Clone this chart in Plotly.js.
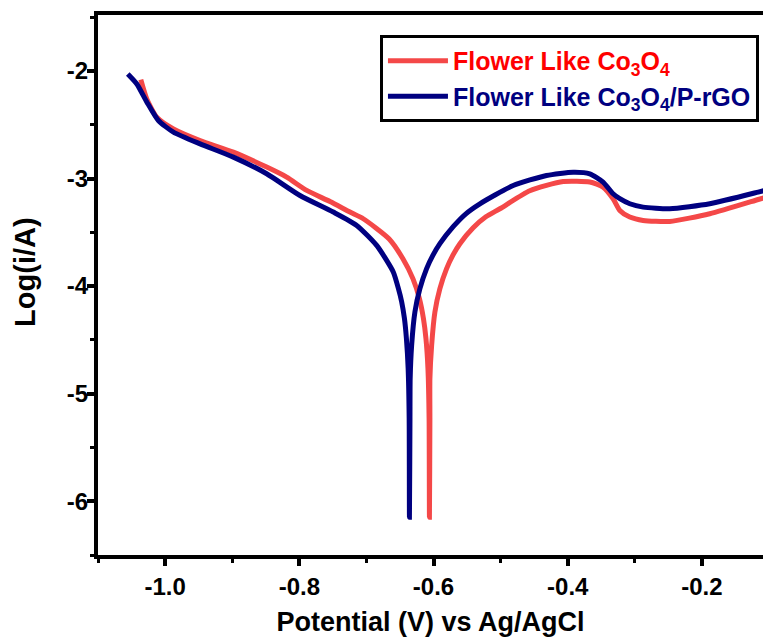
<!DOCTYPE html>
<html>
<head>
<meta charset="utf-8">
<script src="https://cdn.plot.ly/plotly-3.0.1.min.js"></script>
<style>html,body{margin:0;padding:0;background:#fff;overflow:hidden;}#chart{width:763px;height:639px;}</style>
</head>
<body>
<div id="chart"></div>
<script>
// Flower Like Co3O4 (red)
const co3o4X = [-1.0362,-1.0273,-1.0124,-0.9876,-0.9479,-0.8983,-0.8486,-0.8188,-0.7890,-0.7543,-0.7245,-0.7047,-0.6664,-0.6456,-0.6307,-0.6210,-0.6150,-0.6113,-0.6083,-0.6066,-0.6061,-0.6054,-0.6054,-0.6028,-0.5979,-0.5905,-0.5805,-0.5707,-0.5607,-0.5409,-0.5220,-0.5011,-0.4565,-0.4068,-0.3671,-0.3473,-0.3324,-0.3224,-0.3075,-0.2877,-0.2480,-0.1884,-0.1161,-0.1000];
const co3o4Y = [-2.081,-2.260,-2.430,-2.539,-2.647,-2.755,-2.894,-2.987,-3.111,-3.214,-3.312,-3.374,-3.560,-3.746,-3.931,-4.117,-4.303,-4.488,-4.767,-5.231,-6.150,-5.231,-4.860,-4.551,-4.240,-4.024,-3.838,-3.708,-3.606,-3.458,-3.356,-3.281,-3.114,-3.028,-3.033,-3.080,-3.188,-3.297,-3.358,-3.390,-3.399,-3.328,-3.195,-3.165];
// Flower Like Co3O4/P-rGO (blue)
const prgoX = [-1.0556,-1.0421,-1.0273,-1.0100,-0.9876,-0.9479,-0.8983,-0.8486,-0.7990,-0.7494,-0.7145,-0.6847,-0.6600,-0.6523,-0.6475,-0.6433,-0.6404,-0.6378,-0.6363,-0.6359,-0.6351,-0.6348,-0.6326,-0.6277,-0.6203,-0.6103,-0.6004,-0.5905,-0.5707,-0.5518,-0.5309,-0.4813,-0.4316,-0.3919,-0.3671,-0.3473,-0.3324,-0.3224,-0.3075,-0.2877,-0.2480,-0.1884,-0.1161,-0.1000];
const prgoY = [-2.028,-2.121,-2.288,-2.461,-2.569,-2.678,-2.801,-2.956,-3.158,-3.312,-3.436,-3.622,-3.869,-4.024,-4.145,-4.303,-4.488,-4.767,-5.231,-6.150,-5.231,-4.860,-4.551,-4.240,-4.024,-3.838,-3.708,-3.606,-3.448,-3.328,-3.235,-3.065,-2.972,-2.941,-2.956,-3.033,-3.142,-3.188,-3.235,-3.266,-3.281,-3.235,-3.126,-3.100];

const xTicks = [-1.0,-0.8,-0.6,-0.4,-0.2];
const xTickText = ['-1.0','-0.8','-0.6','-0.4','-0.2'];
const yTicks = [-6,-5,-4,-3,-2];
const yTickText = ['-6','-5','-4','-3','-2'];
const xTitle = 'Potential (V) vs Ag/AgCl';
const yTitle = 'Log(i/A)';

const traces = [
  {x: co3o4X, y: co3o4Y, mode:'lines', type:'scatter',
   name:'<span style="color:#ff0000">Flower Like Co<sub>3</sub>O<sub>4</sub></span>',
   line:{color:'#f44848', width:5, shape:'spline', smoothing:0.6}},
  {x: prgoX, y: prgoY, mode:'lines', type:'scatter',
   name:'<span style="color:#000080">Flower Like Co<sub>3</sub>O<sub>4</sub>/P-rGO</span>',
   line:{color:'#000080', width:5, shape:'spline', smoothing:0.6}}
];

const fam = '"Liberation Sans", Arial, sans-serif';
const layout = {
  width:763, height:639,
  margin:{l:98, r:0, t:15, b:84},
  paper_bgcolor:'#fff', plot_bgcolor:'#fff',
  showlegend:true,
  font:{family:fam, color:'#000'},
  legend:{x:0.424, y:0.963, xanchor:'left', yanchor:'top',
    bordercolor:'#000', borderwidth:3, bgcolor:'#fff',
    font:{family:fam, size:25, weight:'bold'},
    itemwidth:60, tracegroupgap:0},
  xaxis:{range:[-1.1,-0.109], tickvals:xTicks, ticktext:xTickText,
    showgrid:false, zeroline:false, showline:true, linecolor:'#000', linewidth:4, mirror:true,
    ticks:'outside', ticklen:7, tickwidth:4, tickcolor:'#000',
    minor:{dtick:0.1, tick0:-1.1, ticks:'outside', ticklen:4, tickwidth:3, tickcolor:'#000', showgrid:false},
    tickfont:{family:fam, size:24, weight:'bold'},
    title:{text:xTitle, font:{family:fam, size:27, weight:'bold'}, standoff:14}},
  yaxis:{range:[-6.5,-1.48], tickvals:yTicks, ticktext:yTickText,
    showgrid:false, zeroline:false, showline:true, linecolor:'#000', linewidth:4, mirror:false,
    ticks:'outside', ticklen:7, tickwidth:4, tickcolor:'#000', ticklabelstandoff:-6,
    minor:{dtick:0.5, tick0:-6.5, ticks:'outside', ticklen:4, tickwidth:3, tickcolor:'#000', showgrid:false},
    tickfont:{family:fam, size:24, weight:'bold'}},
  annotations:[{text:yTitle, xref:'paper', yref:'paper', x:-0.11, y:0.524,
    xanchor:'center', yanchor:'middle', textangle:-90, showarrow:false,
    font:{family:fam, size:29, weight:'bold', color:'#000'}}]
};
Plotly.newPlot('chart', traces, layout, {displayModeBar:false, staticPlot:true});
</script>
</body>
</html>
